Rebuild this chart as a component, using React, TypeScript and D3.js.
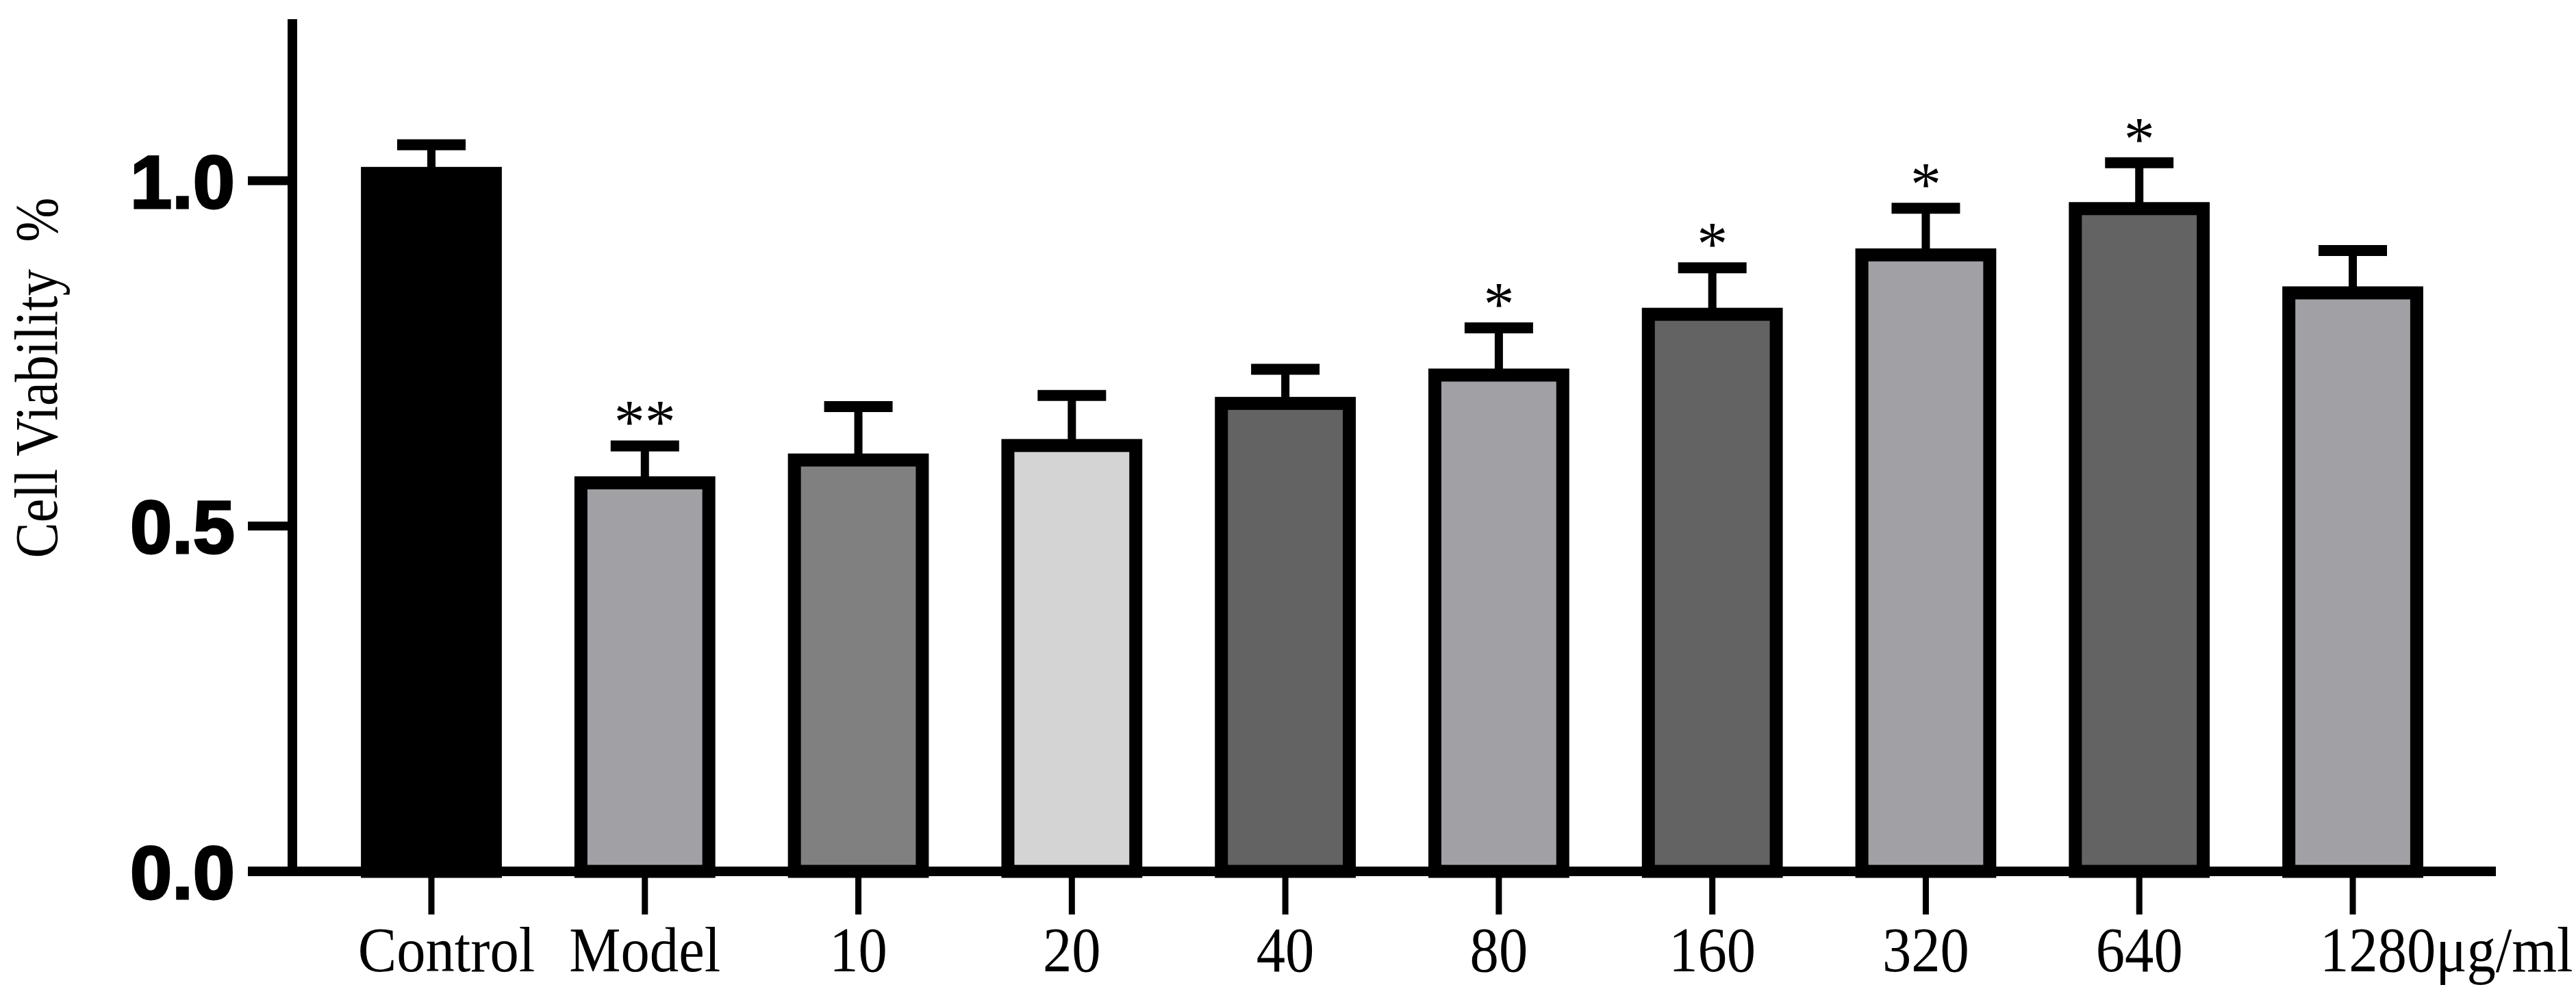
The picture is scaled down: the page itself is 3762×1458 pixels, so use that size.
import { useEffect, useRef } from "react";
import * as d3 from "d3";

const WIDTH = 3762;
const HEIGHT = 1458;

// chart data
const categories = ["Control", "Model", "10", "20", "40", "80", "160", "320", "640", "1280"];
const viability = [1.02, 0.572, 0.605, 0.626, 0.687, 0.728, 0.816, 0.902, 0.969, 0.847];
const errorUp = [0.032, 0.044, 0.068, 0.063, 0.04, 0.059, 0.058, 0.058, 0.057, 0.052];
const marks = ["", "**", "", "", "", "*", "*", "*", "*", ""];
const fills = ["#000000", "#a1a1a5", "#808080", "#d4d4d4", "#636363", "#a1a1a5", "#636363", "#a1a1a5", "#636363", "#a1a1a5"];
const yTicks = [0, 0.5, 1.0];
const unitLabel = "μg/ml";

const AXIS = {
  X0: 427, // y axis position
  LEFT: 362, // x axis start (tick end)
  RIGHT: 3645,
  TOP: 28,
  ZERO: 1273,
};

const SERIF = "'Liberation Serif', 'Times New Roman', serif";

const App = () => {
  const svgRef = useRef<SVGSVGElement | null>(null);

  useEffect(() => {
    const svg = d3.select(svgRef.current);
    svg.selectAll("*").remove();

    const yScale = d3.scaleLinear().domain([0, 1]).range([AXIS.ZERO, 264]);

    // bars centred from 630 to 3436
    const step = (3436 - 630) / 9;
    const xScale = d3
      .scaleBand<string>()
      .domain(categories)
      .range([630 - step / 2, 3436 + step / 2])
      .paddingInner(0.34)
      .paddingOuter(0.17);
    const cx = (c: string) => xScale(c)! + xScale.bandwidth() / 2;

    const sw = 19; // bar border
    const data = categories.map((c, i) => ({
      cat: c,
      v: viability[i],
      e: errorUp[i],
      mark: marks[i],
      fill: fills[i],
    }));

    const g = svg.append("g");

    // error bars (drawn first, bars cover lower half)
    const err = g.selectAll(".err").data(data).join("g").attr("class", "err");
    err
      .append("line")
      .attr("x1", (d) => cx(d.cat))
      .attr("x2", (d) => cx(d.cat))
      .attr("y1", (d) => yScale(d.v) + 5)
      .attr("y2", (d) => yScale(d.v + d.e))
      .attr("stroke", "#000")
      .attr("stroke-width", 12);
    err
      .append("line")
      .attr("x1", (d) => cx(d.cat) - 50)
      .attr("x2", (d) => cx(d.cat) + 50)
      .attr("y1", (d) => yScale(d.v + d.e))
      .attr("y2", (d) => yScale(d.v + d.e))
      .attr("stroke", "#000")
      .attr("stroke-width", 16);

    // bars, outer edge of border sits at the value
    g.selectAll(".bar")
      .data(data)
      .join("rect")
      .attr("class", "bar")
      .attr("x", (d) => xScale(d.cat)! + sw / 2)
      .attr("width", xScale.bandwidth() - sw)
      .attr("y", (d) => yScale(d.v) + sw / 2)
      .attr("height", (d) => AXIS.ZERO - yScale(d.v) - sw / 2)
      .attr("fill", (d) => d.fill)
      .attr("stroke", "#000")
      .attr("stroke-width", sw);

    // significance stars
    g.selectAll(".star")
      .data(data.filter((d) => d.mark))
      .join("text")
      .attr("class", "star")
      .attr("x", (d) => cx(d.cat))
      .attr("y", (d) => yScale(d.v + d.e) - 4)
      .attr("text-anchor", "middle")
      .style("font-family", SERIF)
      .style("font-size", "90px")
      .text((d) => d.mark);

    // y axis
    g.append("line")
      .attr("x1", AXIS.X0)
      .attr("x2", AXIS.X0)
      .attr("y1", AXIS.TOP)
      .attr("y2", AXIS.ZERO + 7)
      .attr("stroke", "#000")
      .attr("stroke-width", 14);

    g.selectAll(".ytick")
      .data(yTicks)
      .join("line")
      .attr("class", "ytick")
      .attr("x1", AXIS.LEFT)
      .attr("x2", AXIS.X0)
      .attr("y1", (d) => yScale(d))
      .attr("y2", (d) => yScale(d))
      .attr("stroke", "#000")
      .attr("stroke-width", 13);

    g.selectAll(".ylab")
      .data(yTicks)
      .join("text")
      .attr("class", "ylab")
      .attr("x", 343)
      .attr("y", (d) => yScale(d))
      .attr("dy", "0.36em")
      .attr("text-anchor", "end")
      .style("font-family", "'Liberation Sans', Arial, sans-serif")
      .style("font-weight", "bold")
      .style("font-size", "110px")
      .attr("stroke", "#000")
      .attr("stroke-width", 3)
      .text((d) => d3.format(".1f")(d));

    // x axis
    g.append("line")
      .attr("x1", AXIS.LEFT)
      .attr("x2", AXIS.RIGHT)
      .attr("y1", AXIS.ZERO)
      .attr("y2", AXIS.ZERO)
      .attr("stroke", "#000")
      .attr("stroke-width", 14);

    g.selectAll(".xtick")
      .data(categories)
      .join("line")
      .attr("class", "xtick")
      .attr("x1", (d) => cx(d))
      .attr("x2", (d) => cx(d))
      .attr("y1", AXIS.ZERO)
      .attr("y2", AXIS.ZERO + 63)
      .attr("stroke", "#000")
      .attr("stroke-width", 9);

    // category labels, condensed Times like the original
    const last = categories[categories.length - 1];
    g.selectAll(".xlab")
      .data(categories)
      .join("text")
      .attr("class", "xlab")
      .attr("transform", (d) => {
        const x = d === last ? cx(d) - 48 : d === "Control" ? cx(d) + 22 : cx(d);
        return `translate(${x}, 1419) scale(0.9, 1)`;
      })
      .attr("text-anchor", (d) => (d === last ? "start" : "middle"))
      .style("font-family", SERIF)
      .style("font-size", "94px")
      .text((d) => (d === last ? d + unitLabel : d));

    // y title
    svg
      .append("text")
      .attr("transform", `translate(83, 552) rotate(-90) scale(0.89, 1)`)
      .attr("text-anchor", "middle")
      .style("font-family", SERIF)
      .style("font-size", "88px")
      .style("white-space", "pre")
      .text("Cell Viability  %");
  }, []);

  return (
    <svg
      ref={svgRef}
      width={WIDTH}
      height={HEIGHT}
      style={{ position: "absolute", left: 0, top: 0, background: "#fff" }}
    />
  );
};

export default App;
